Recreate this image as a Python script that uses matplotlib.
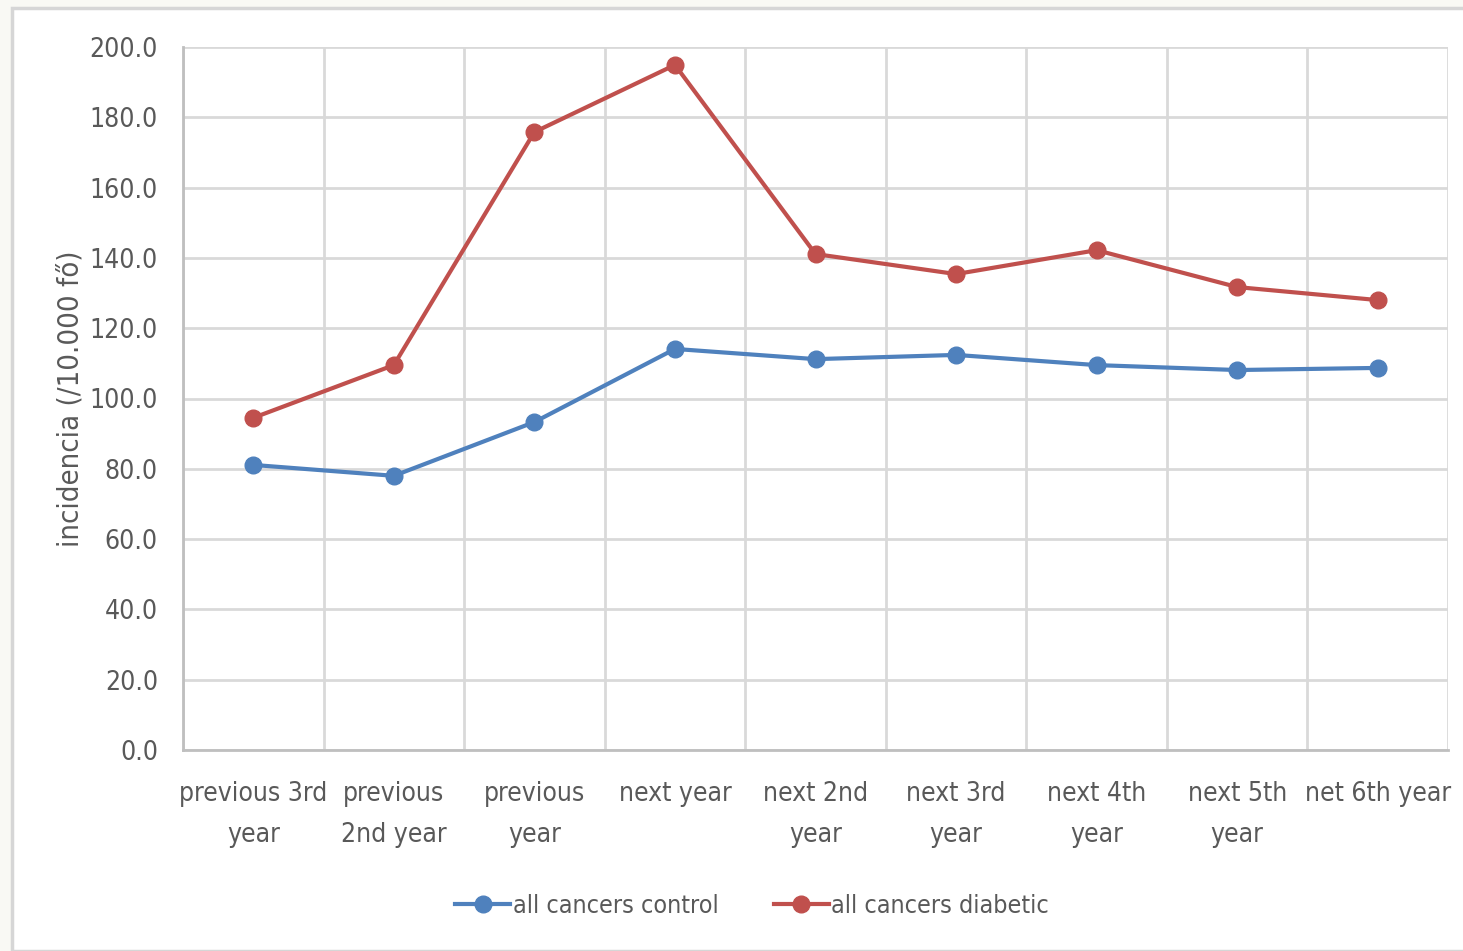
import matplotlib
matplotlib.use('Agg')
from matplotlib import pyplot as plt
from matplotlib.patches import Rectangle
import numpy as np

# adatok
categories = ['previous 3rd\nyear', 'previous\n2nd year', 'previous\nyear', 'next year',
              'next 2nd\nyear', 'next 3rd\nyear', 'next 4th\nyear', 'next 5th\nyear', 'net 6th year']
control = [81.1, 78.0, 93.3, 114.1, 111.2, 112.4, 109.5, 108.1, 108.7]
diabetic = [94.5, 109.5, 175.8, 194.9, 141.1, 135.4, 142.2, 131.7, 128.0]
yticks = [0, 20, 40, 60, 80, 100, 120, 140, 160, 180, 200]

plt.rcParams['font.family'] = ['Liberation Sans Narrow', 'DejaVu Sans']
plt.rcParams['font.stretch'] = 'condensed'
txt = '#595959'
grid = '#d9d9d9'

fig = plt.figure(figsize=(14.63, 9.51), dpi=100)
fig.patch.set_facecolor('#f9f9f4')
# kartya hatter
fig.patches.append(Rectangle((12 / 1463, 0), 1.1, 1 - 8 / 951, transform=fig.transFigure,
                             facecolor='white', edgecolor='#d6d6d6', linewidth=2.5, zorder=-5))

ax = fig.add_axes([183 / 1463, 1 - 750 / 951, (1448 - 183) / 1463, (750 - 47) / 951])
ax.set_zorder(2)
ax.patch.set_alpha(0)
x = np.arange(len(categories))
ax.plot(x, control, color='#4f81bd', linewidth=3, marker='o', markersize=12,
        label='all cancers control', zorder=3)
ax.plot(x, diabetic, color='#c0504d', linewidth=3, marker='o', markersize=12,
        label='all cancers diabetic', zorder=3)

ax.set_xlim(-0.5, len(categories) - 0.5)
ax.set_ylim(0, 200)
ax.set_yticks(yticks)
ax.set_yticklabels(['%.1f' % v for v in yticks])
ax.set_xticks(x)
ax.set_xticklabels(categories, linespacing=1.75)
ax.set_xticks(np.arange(-0.5, len(categories)), minor=True)

ax.grid(axis='y', which='major', color=grid, linewidth=2)
ax.grid(axis='x', which='minor', color=grid, linewidth=2)
ax.grid(axis='x', which='major', visible=False)
ax.set_axisbelow(True)
for s in ['top', 'right']:
    ax.spines[s].set_visible(False)
for s in ['left', 'bottom']:
    ax.spines[s].set_color('#bfbfbf')
    ax.spines[s].set_linewidth(2)
ax.tick_params(which='both', length=0, colors=txt, labelsize=19)
ax.tick_params(axis='y', pad=18)
ax.tick_params(axis='x', pad=22)

ax.set_ylabel('incidencia (/10.000 fő)', fontsize=21, color=txt, labelpad=4)

leg = fig.legend(loc='center', bbox_to_anchor=(752 / 1463, 1 - 906 / 951), ncol=2,
                 frameon=False, fontsize=18, handlelength=2.2, handletextpad=0.1,
                 columnspacing=2.2)
for t in leg.get_texts():
    t.set_color(txt)

fig.savefig('out.png', dpi=100)
